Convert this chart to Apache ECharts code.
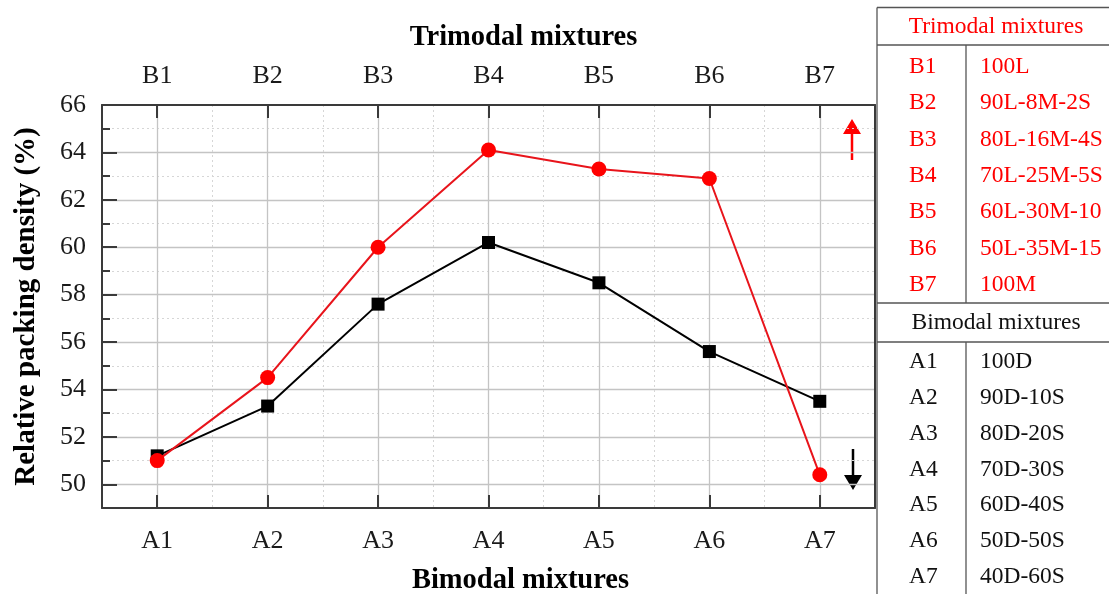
<!DOCTYPE html>
<html>
<head>
<meta charset="utf-8">
<script src="https://cdn.jsdelivr.net/npm/echarts@6/dist/echarts.min.js"></script>
<style>
  html, body { margin: 0; padding: 0; background: #fff; }
  #chart { width: 1109px; height: 594px; }
</style>
</head>
<body>
<div id="chart"></div>
<script>
// Mixture codes on the two category axes
const bimodalCats = ['A1', 'A2', 'A3', 'A4', 'A5', 'A6', 'A7'];
const trimodalCats = ['B1', 'B2', 'B3', 'B4', 'B5', 'B6', 'B7'];

// Relative packing density (%)
const bimodalDensity = [51.2, 53.3, 57.6, 60.2, 58.5, 55.6, 53.5];
const trimodalDensity = [51.0, 54.5, 60.0, 64.1, 63.3, 62.9, 50.4];

// Legend table: composition of each mixture
const trimodalComp = ['100L', '90L-8M-2S', '80L-16M-4S', '70L-25M-5S', '60L-30M-10', '50L-35M-15', '100M'];
const bimodalComp = ['100D', '90D-10S', '80D-20S', '70D-30S', '60D-40S', '50D-50S', '40D-60S'];

const FONT = 'Liberation Serif';
const RED = '#ff0000';
const AXIS = '#3a3a3a';
const GRID_SOLID = '#c4c4c4';
const GRID_DOT = '#d6d6d6';

const chart = echarts.init(document.getElementById('chart'), null, { renderer: 'canvas' });

// ---- composition table on the right ----
const tbl = { left: 877, div: 966, right: 1120, top: 7.5 };
const graphics = [];
function hline(x1, x2, y) {
  graphics.push({ type: 'line', shape: { x1, y1: y, x2, y2: y }, style: { stroke: '#555', lineWidth: 1.3 }, silent: true });
}
function vline(x, y1, y2) {
  graphics.push({ type: 'line', shape: { x1: x, y1, x2: x, y2 }, style: { stroke: '#555', lineWidth: 1.3 }, silent: true });
}
function txt(x, y, s, color, align) {
  graphics.push({ type: 'text', x, y, silent: true,
    style: { text: s, fill: color, font: '23.5px "' + FONT + '"', textAlign: align || 'left', textVerticalAlign: 'middle' } });
}
hline(tbl.left, tbl.right, tbl.top);
vline(tbl.left, tbl.top, 594);
txt(996, 27, 'Trimodal mixtures', RED, 'center');
hline(tbl.left, tbl.right, 45);
const triY0 = 67, triStep = 36.3;
trimodalCats.forEach((c, i) => {
  txt(909, triY0 + i * triStep, c, RED);
  txt(980, triY0 + i * triStep, trimodalComp[i], RED);
});
vline(tbl.div, 45, 303);
hline(tbl.left, tbl.right, 303);
txt(996, 323, 'Bimodal mixtures', '#111', 'center');
hline(tbl.left, tbl.right, 342);
const biY0 = 362, biStep = 35.8;
bimodalCats.forEach((c, i) => {
  txt(909, biY0 + i * biStep, c, '#111');
  txt(980, biY0 + i * biStep, bimodalComp[i], '#111');
});
vline(tbl.div, 342, 594);

// ---- direction arrows telling which axis each curve belongs to ----
graphics.push({ type: 'line', shape: { x1: 852, y1: 130, x2: 852, y2: 160 }, style: { stroke: RED, lineWidth: 2.5 }, silent: true });
graphics.push({ type: 'polygon', shape: { points: [[852, 119], [843, 134], [861, 134]] }, style: { fill: RED }, silent: true });
graphics.push({ type: 'line', shape: { x1: 853, y1: 449, x2: 853, y2: 479 }, style: { stroke: '#000', lineWidth: 2.5 }, silent: true });
graphics.push({ type: 'polygon', shape: { points: [[853, 490], [844, 475], [862, 475]] }, style: { fill: '#000' }, silent: true });

const labelStyle = { fontFamily: FONT, fontSize: 26, color: '#1a1a1a' };
const nameStyle = { fontFamily: FONT, fontSize: 28.5, fontWeight: 'bold', color: '#000' };

const option = {
  backgroundColor: '#fff',
  animation: false,
  grid: { left: 102, right: 234, top: 105, bottom: 86, containLabel: false, outerBoundsMode: 'none' },
  xAxis: [
    {
      type: 'category', position: 'bottom', data: bimodalCats, boundaryGap: true,
      name: 'Bimodal mixtures', nameLocation: 'middle', nameGap: 58,
      nameTextStyle: Object.assign({ padding: [0, 0, 0, 64] }, nameStyle),
      axisLine: { show: true, lineStyle: { color: AXIS, width: 2 } },
      axisTick: { show: true, inside: true, alignWithLabel: true, length: 13, lineStyle: { color: AXIS, width: 2 } },
      axisLabel: Object.assign({ margin: 20 }, labelStyle),
      splitLine: { show: false }
    },
    {
      type: 'category', position: 'top', data: trimodalCats, boundaryGap: true,
      name: 'Trimodal mixtures', nameLocation: 'middle', nameGap: 53,
      nameTextStyle: Object.assign({ padding: [0, 0, 0, 70] }, nameStyle),
      axisLine: { show: true, lineStyle: { color: AXIS, width: 2 } },
      axisTick: { show: true, inside: true, alignWithLabel: true, length: 13, lineStyle: { color: AXIS, width: 2 } },
      axisLabel: Object.assign({ margin: 16 }, labelStyle),
      splitLine: { show: false }
    },
    {
      // gridline-only axis: solid lines at mixtures, dotted lines between them
      type: 'value', position: 'bottom', min: 0.5, max: 7.5, splitNumber: 7, minInterval: 1, maxInterval: 1,
      axisLine: { show: false }, axisTick: { show: false }, axisLabel: { show: false },
      splitLine: { show: true, showMinLine: false, showMaxLine: false, lineStyle: { color: GRID_SOLID, width: 1.3 } },
      minorTick: { show: false, splitNumber: 2 },
      minorSplitLine: { show: true, lineStyle: { color: GRID_DOT, width: 1, type: [2, 3] } }
    }
  ],
  yAxis: [
    {
      type: 'value', position: 'left', min: 49, max: 66, splitNumber: 8, minInterval: 2, maxInterval: 2,
      name: 'Relative packing density (%)', nameLocation: 'middle', nameGap: 61,
      nameTextStyle: Object.assign({}, nameStyle, { fontSize: 29 }),
      axisLine: { show: true, lineStyle: { color: AXIS, width: 2 } },
      axisTick: { show: true, inside: true, length: 15, lineStyle: { color: AXIS, width: 2 } },
      minorTick: { show: true, splitNumber: 2, length: 8, lineStyle: { color: AXIS, width: 2 } },
      axisLabel: Object.assign({ margin: 16, showMinLabel: false,
        formatter: v => (v % 2 === 0 ? String(v) : '') }, labelStyle),
      splitLine: { show: true, showMinLine: false, showMaxLine: false, lineStyle: { color: GRID_SOLID, width: 1.3 } },
      minorSplitLine: { show: true, lineStyle: { color: GRID_DOT, width: 1, type: [2, 3] } }
    },
    {
      type: 'value', position: 'right', min: 49, max: 66,
      axisLine: { show: true, lineStyle: { color: AXIS, width: 2 } },
      axisTick: { show: false }, axisLabel: { show: false }, splitLine: { show: false }
    }
  ],
  series: [
    {
      name: 'Bimodal mixtures', type: 'line', xAxisIndex: 0, yAxisIndex: 0,
      data: bimodalDensity, symbol: 'rect', symbolSize: 13,
      lineStyle: { color: '#000', width: 2 }, itemStyle: { color: '#000' }, z: 3
    },
    {
      name: 'Trimodal mixtures', type: 'line', xAxisIndex: 1, yAxisIndex: 0,
      data: trimodalDensity, symbol: 'circle', symbolSize: 15,
      lineStyle: { color: '#e8141b', width: 2 }, itemStyle: { color: RED }, z: 4
    }
  ],
  graphic: graphics
};

chart.setOption(option);
</script>
</body>
</html>
